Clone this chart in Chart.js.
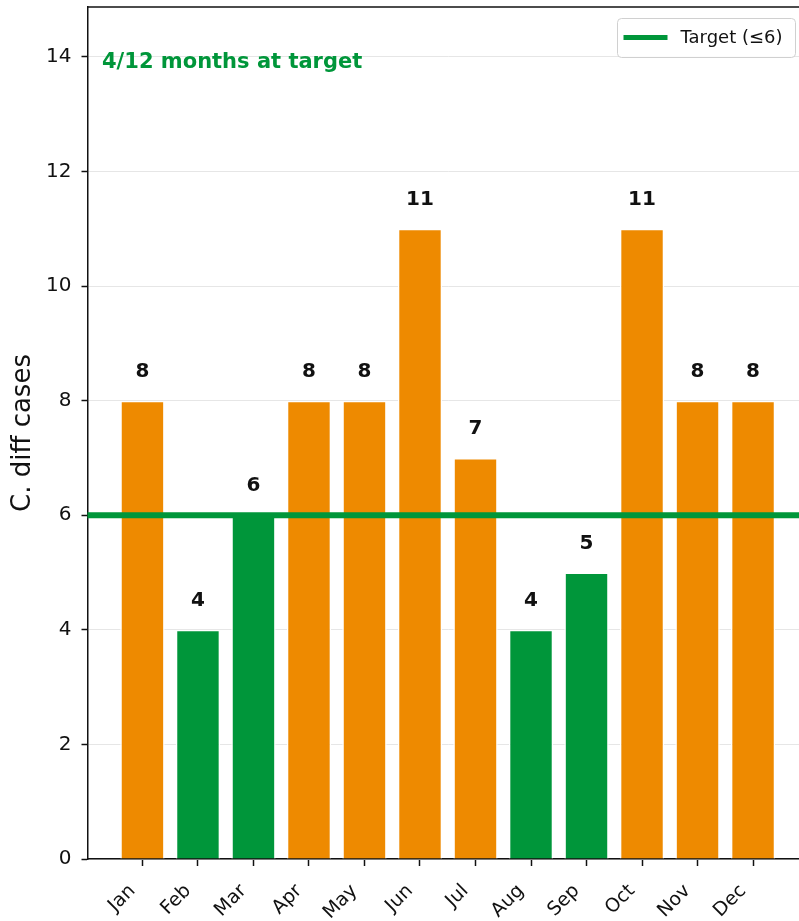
<!DOCTYPE html>
<html>
<head>
<meta charset="utf-8">
<script src="https://cdn.jsdelivr.net/npm/chart.js"></script>
<style>
  html, body { margin: 0; padding: 0; background: #fff; overflow: hidden; }
  #wrap { position: relative; width: 808px; height: 921px; }
</style>
</head>
<body>
<div id="wrap"><canvas id="chart"></canvas></div>
<script>
const MONTHS = ["Jan", "Feb", "Mar", "Apr", "May", "Jun", "Jul", "Aug", "Sep", "Oct", "Nov", "Dec"];
const CASES = [8, 4, 6, 8, 8, 11, 7, 4, 5, 11, 8, 8];
const TARGET = 6;
const Y_TICKS = [0, 2, 4, 6, 8, 10, 12, 14];
const Y_MAX = 14.87;

const GREEN = "#00963a";
const ORANGE = "#ee8a00";
const INK = "#111111";
const FONT = "DejaVu Sans";

const atTarget = CASES.filter(v => v <= TARGET).length;

// target line, value labels, top spine, note and legend
const overlay = {
  id: "overlay",
  afterDatasetsDraw(chart) {
    const { ctx, chartArea: a, scales: { y } } = chart;
    const ty = y.getPixelForValue(TARGET);

    ctx.save();
    ctx.strokeStyle = GREEN;
    ctx.lineWidth = 6;
    ctx.beginPath();
    ctx.moveTo(a.left, ty);
    ctx.lineTo(a.right, ty);
    ctx.stroke();

    ctx.fillStyle = INK;
    ctx.font = `bold 20px "${FONT}"`;
    ctx.textAlign = "center";
    ctx.textBaseline = "alphabetic";
    const meta = chart.getDatasetMeta(0);
    meta.data.forEach((bar, i) => {
      ctx.fillText(String(CASES[i]), bar.x, y.getPixelForValue(CASES[i]) - 24);
    });

    ctx.strokeStyle = INK;
    ctx.lineWidth = 1.5;
    ctx.beginPath();
    ctx.moveTo(a.left, a.top);
    ctx.lineTo(a.right, a.top);
    ctx.stroke();

    ctx.fillStyle = GREEN;
    ctx.font = `bold 21px "${FONT}"`;
    ctx.textAlign = "left";
    ctx.fillText(`${atTarget}/12 months at target`, a.left + 14.5, a.top + 61);

    // legend box
    const bx = 617.5, by = 18.5, bw = 178, bh = 39;
    ctx.fillStyle = "rgba(255,255,255,0.85)";
    ctx.strokeStyle = "#d0d0d0";
    ctx.lineWidth = 1;
    ctx.beginPath();
    ctx.roundRect(bx, by, bw, bh, 4);
    ctx.fill();
    ctx.stroke();
    ctx.strokeStyle = GREEN;
    ctx.lineWidth = 5;
    ctx.beginPath();
    ctx.moveTo(bx + 6, by + 19);
    ctx.lineTo(bx + 50, by + 19);
    ctx.stroke();
    ctx.fillStyle = INK;
    ctx.font = `18px "${FONT}"`;
    ctx.textBaseline = "middle";
    ctx.fillText("Target (\u22646)", bx + 63, by + 19.5);
    ctx.restore();
  }
};

new Chart(document.getElementById("chart"), {
  type: "bar",
  data: {
    datasets: [{
      data: CASES.map((v, i) => ({ x: i, y: v })),
      backgroundColor: CASES.map(v => (v <= TARGET ? GREEN : ORANGE)),
      borderColor: "#ffffff",
      borderWidth: 1.5,
      borderSkipped: "bottom",
      barPercentage: 0.8,
      categoryPercentage: 1
    }]
  },
  options: {
    responsive: true,
    maintainAspectRatio: false,
    animation: false,
    events: [],
    layout: { padding: { top: 7, left: 0, right: 0, bottom: 0 } },
    plugins: { legend: { display: false }, tooltip: { enabled: false } },
    scales: {
      x: {
        type: "linear",
        offset: false,
        min: -0.99,
        max: 11.99,
        afterBuildTicks: s => { s.ticks = MONTHS.map((m, i) => ({ value: i })); },
        afterFit: s => { s.height = 62; s.paddingLeft = 0; s.paddingRight = 0; },
        ticks: {
          callback: v => MONTHS[v],
          autoSkip: false,
          minRotation: 45,
          maxRotation: 45,
          padding: 14,
          labelOffset: -10,
          color: INK,
          font: { family: FONT, size: 19 }
        },
        grid: { offset: false, drawOnChartArea: false, drawTicks: true, tickLength: 7, tickColor: INK, tickWidth: 1.5 },
        border: { color: INK, width: 1.5 }
      },
      y: {
        min: 0,
        max: Y_MAX,
        afterBuildTicks: s => { s.ticks = Y_TICKS.map(v => ({ value: v })); },
        afterFit: s => { s.width = 87.5; s.paddingTop = 0; s.paddingBottom = 0; },
        ticks: { padding: 10, color: INK, font: { family: FONT, size: 20 } },
        grid: { color: "#e6e6e6", lineWidth: 1, tickLength: 6, tickColor: INK, tickWidth: 1.5 },
        border: { color: INK, width: 1.5 },
        title: {
          display: true,
          text: "C. diff cases",
          color: INK,
          font: { family: FONT, size: 26 },
          padding: { top: 8, bottom: 0 }
        }
      }
    }
  },
  plugins: [overlay]
});
</script>
</body>
</html>
